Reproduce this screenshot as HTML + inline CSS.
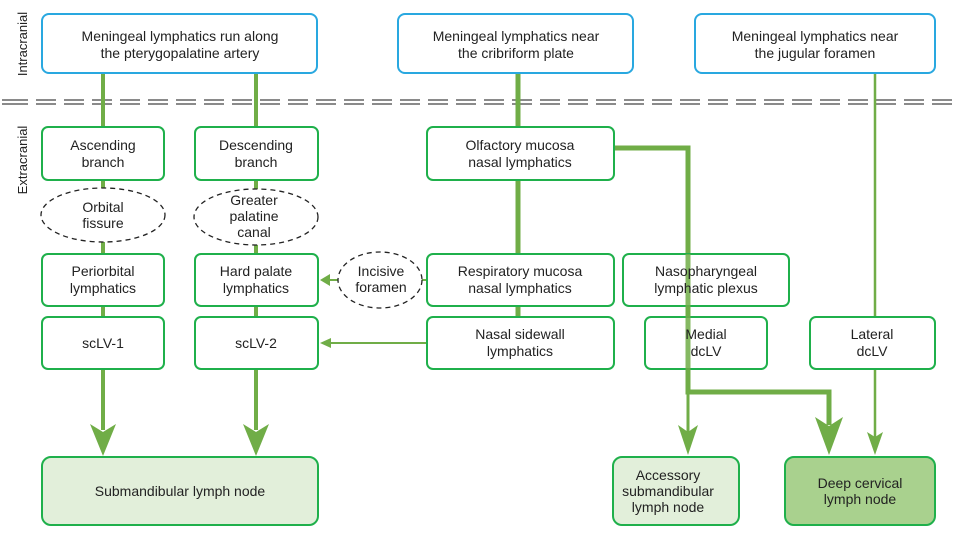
<!DOCTYPE html><html><head><style>body{margin:0;background:#fff}svg{display:block}text{font-family:"Liberation Sans",sans-serif;font-size:14px;fill:#222;text-anchor:middle}</style></head><body>
<svg width="960" height="543" viewBox="0 0 960 543">
<g stroke="#444" stroke-width="1.3" stroke-dasharray="20 8">
<line x1="36" y1="100" x2="960" y2="100"/><line x1="36" y1="104" x2="960" y2="104"/></g>
<line x1="2" y1="100" x2="28" y2="100" stroke="#444" stroke-width="1.3"/><line x1="2" y1="104" x2="28" y2="104" stroke="#444" stroke-width="1.3"/>
<text transform="translate(27,44) rotate(-90)" style="font-size:13px">Intracranial</text>
<text transform="translate(27,160) rotate(-90)" style="font-size:13px">Extracranial</text>
<g stroke="#70ad47" fill="none">
<line x1="103" y1="73" x2="103" y2="127" stroke-width="4"/><line x1="256" y1="73" x2="256" y2="127" stroke-width="4"/>
<line x1="103" y1="180" x2="103" y2="254" stroke-width="4"/><line x1="256" y1="180" x2="256" y2="254" stroke-width="4"/>
<line x1="103" y1="306" x2="103" y2="317" stroke-width="4"/><line x1="256" y1="306" x2="256" y2="317" stroke-width="4"/>
<line x1="103" y1="369" x2="103" y2="430" stroke-width="4"/><line x1="256" y1="369" x2="256" y2="430" stroke-width="4"/>
<line x1="518" y1="73" x2="518" y2="317" stroke-width="5"/>
<line x1="875" y1="73" x2="875" y2="317" stroke-width="2.5"/><line x1="875" y1="369" x2="875" y2="440" stroke-width="2.5"/>
<polyline points="614,148 688,148 688,392 829,392 829,425" stroke-width="5"/>
<line x1="688" y1="392" x2="688" y2="432" stroke-width="3"/>
<line x1="422" y1="280" x2="427" y2="280" stroke-width="2"/>
<line x1="338" y1="280" x2="328" y2="280" stroke-width="2"/>
<line x1="427" y1="343" x2="330" y2="343" stroke-width="2"/>
</g>
<g fill="#70ad47">
<polygon points="90,424 103,432 116,424 103,456"/><polygon points="243,424 256,432 269,424 256,456"/>
<polygon points="678,425 688,432 698,425 688,455"/><polygon points="815,417 829,426 843,417 829,455"/>
<polygon points="867,432 875,437 883,432 875,455"/>
<polygon points="320,280 330,274 330,286"/><polygon points="320,343 331,338 331,348"/>
</g>
<g fill="#fff" stroke="#29a8e0" stroke-width="2">
<rect x="42" y="14" width="275" height="59" rx="7"/><rect x="398" y="14" width="235" height="59" rx="7"/><rect x="695" y="14" width="240" height="59" rx="7"/></g>
<g fill="#fff" stroke="#1fb04b" stroke-width="2">
<rect x="42" y="127" width="122" height="53" rx="6"/><rect x="195" y="127" width="123" height="53" rx="6"/><rect x="427" y="127" width="187" height="53" rx="6"/>
<rect x="42" y="254" width="122" height="52" rx="6"/><rect x="195" y="254" width="123" height="52" rx="6"/><rect x="427" y="254" width="187" height="52" rx="6"/><rect x="623" y="254" width="166" height="52" rx="6"/>
<rect x="42" y="317" width="122" height="52" rx="6"/><rect x="195" y="317" width="123" height="52" rx="6"/><rect x="427" y="317" width="187" height="52" rx="6"/><rect x="645" y="317" width="122" height="52" rx="6"/><rect x="810" y="317" width="125" height="52" rx="6"/>
<rect x="42" y="457" width="276" height="68" rx="9" fill="#e2efda"/><rect x="613" y="457" width="126" height="68" rx="9" fill="#e2efda"/><rect x="785" y="457" width="150" height="68" rx="9" fill="#a9d18e"/>
</g>
<line x1="688" y1="254" x2="688" y2="392" stroke="#70ad47" stroke-width="5" opacity="0.85"/>
<g fill="#fff" stroke="#222" stroke-width="1.3" stroke-dasharray="5 4">
<ellipse cx="103" cy="215" rx="62" ry="27"/><ellipse cx="256" cy="217" rx="62" ry="28"/><ellipse cx="380" cy="280" rx="42" ry="28"/></g>
<text x="180" y="41">Meningeal lymphatics run along</text><text x="180" y="58">the pterygopalatine artery</text>
<text x="516" y="41">Meningeal lymphatics near</text><text x="516" y="58">the cribriform plate</text>
<text x="815" y="41">Meningeal lymphatics near</text><text x="815" y="58">the jugular foramen</text>
<text x="103" y="150">Ascending</text><text x="103" y="167">branch</text>
<text x="256" y="150">Descending</text><text x="256" y="167">branch</text>
<text x="520" y="150">Olfactory mucosa</text><text x="520" y="167">nasal lymphatics</text>
<text x="103" y="212">Orbital</text><text x="103" y="228">fissure</text>
<text x="254" y="205">Greater</text><text x="254" y="221">palatine</text><text x="254" y="237">canal</text>
<text x="381" y="276">Incisive</text><text x="381" y="292">foramen</text>
<text x="103" y="276">Periorbital</text><text x="103" y="293">lymphatics</text>
<text x="256" y="276">Hard palate</text><text x="256" y="293">lymphatics</text>
<text x="520" y="276">Respiratory mucosa</text><text x="520" y="293">nasal lymphatics</text>
<text x="706" y="276">Nasopharyngeal</text><text x="706" y="293">lymphatic plexus</text>
<text x="103" y="348">scLV-1</text><text x="256" y="348">scLV-2</text>
<text x="520" y="339">Nasal sidewall</text><text x="520" y="356">lymphatics</text>
<text x="706" y="339">Medial</text><text x="706" y="356">dcLV</text>
<text x="872" y="339">Lateral</text><text x="872" y="356">dcLV</text>
<text x="180" y="496">Submandibular lymph node</text>
<text x="668" y="480">Accessory</text><text x="668" y="496">submandibular</text><text x="668" y="512">lymph node</text>
<text x="860" y="488">Deep cervical</text><text x="860" y="504">lymph node</text>
</svg></body></html>
